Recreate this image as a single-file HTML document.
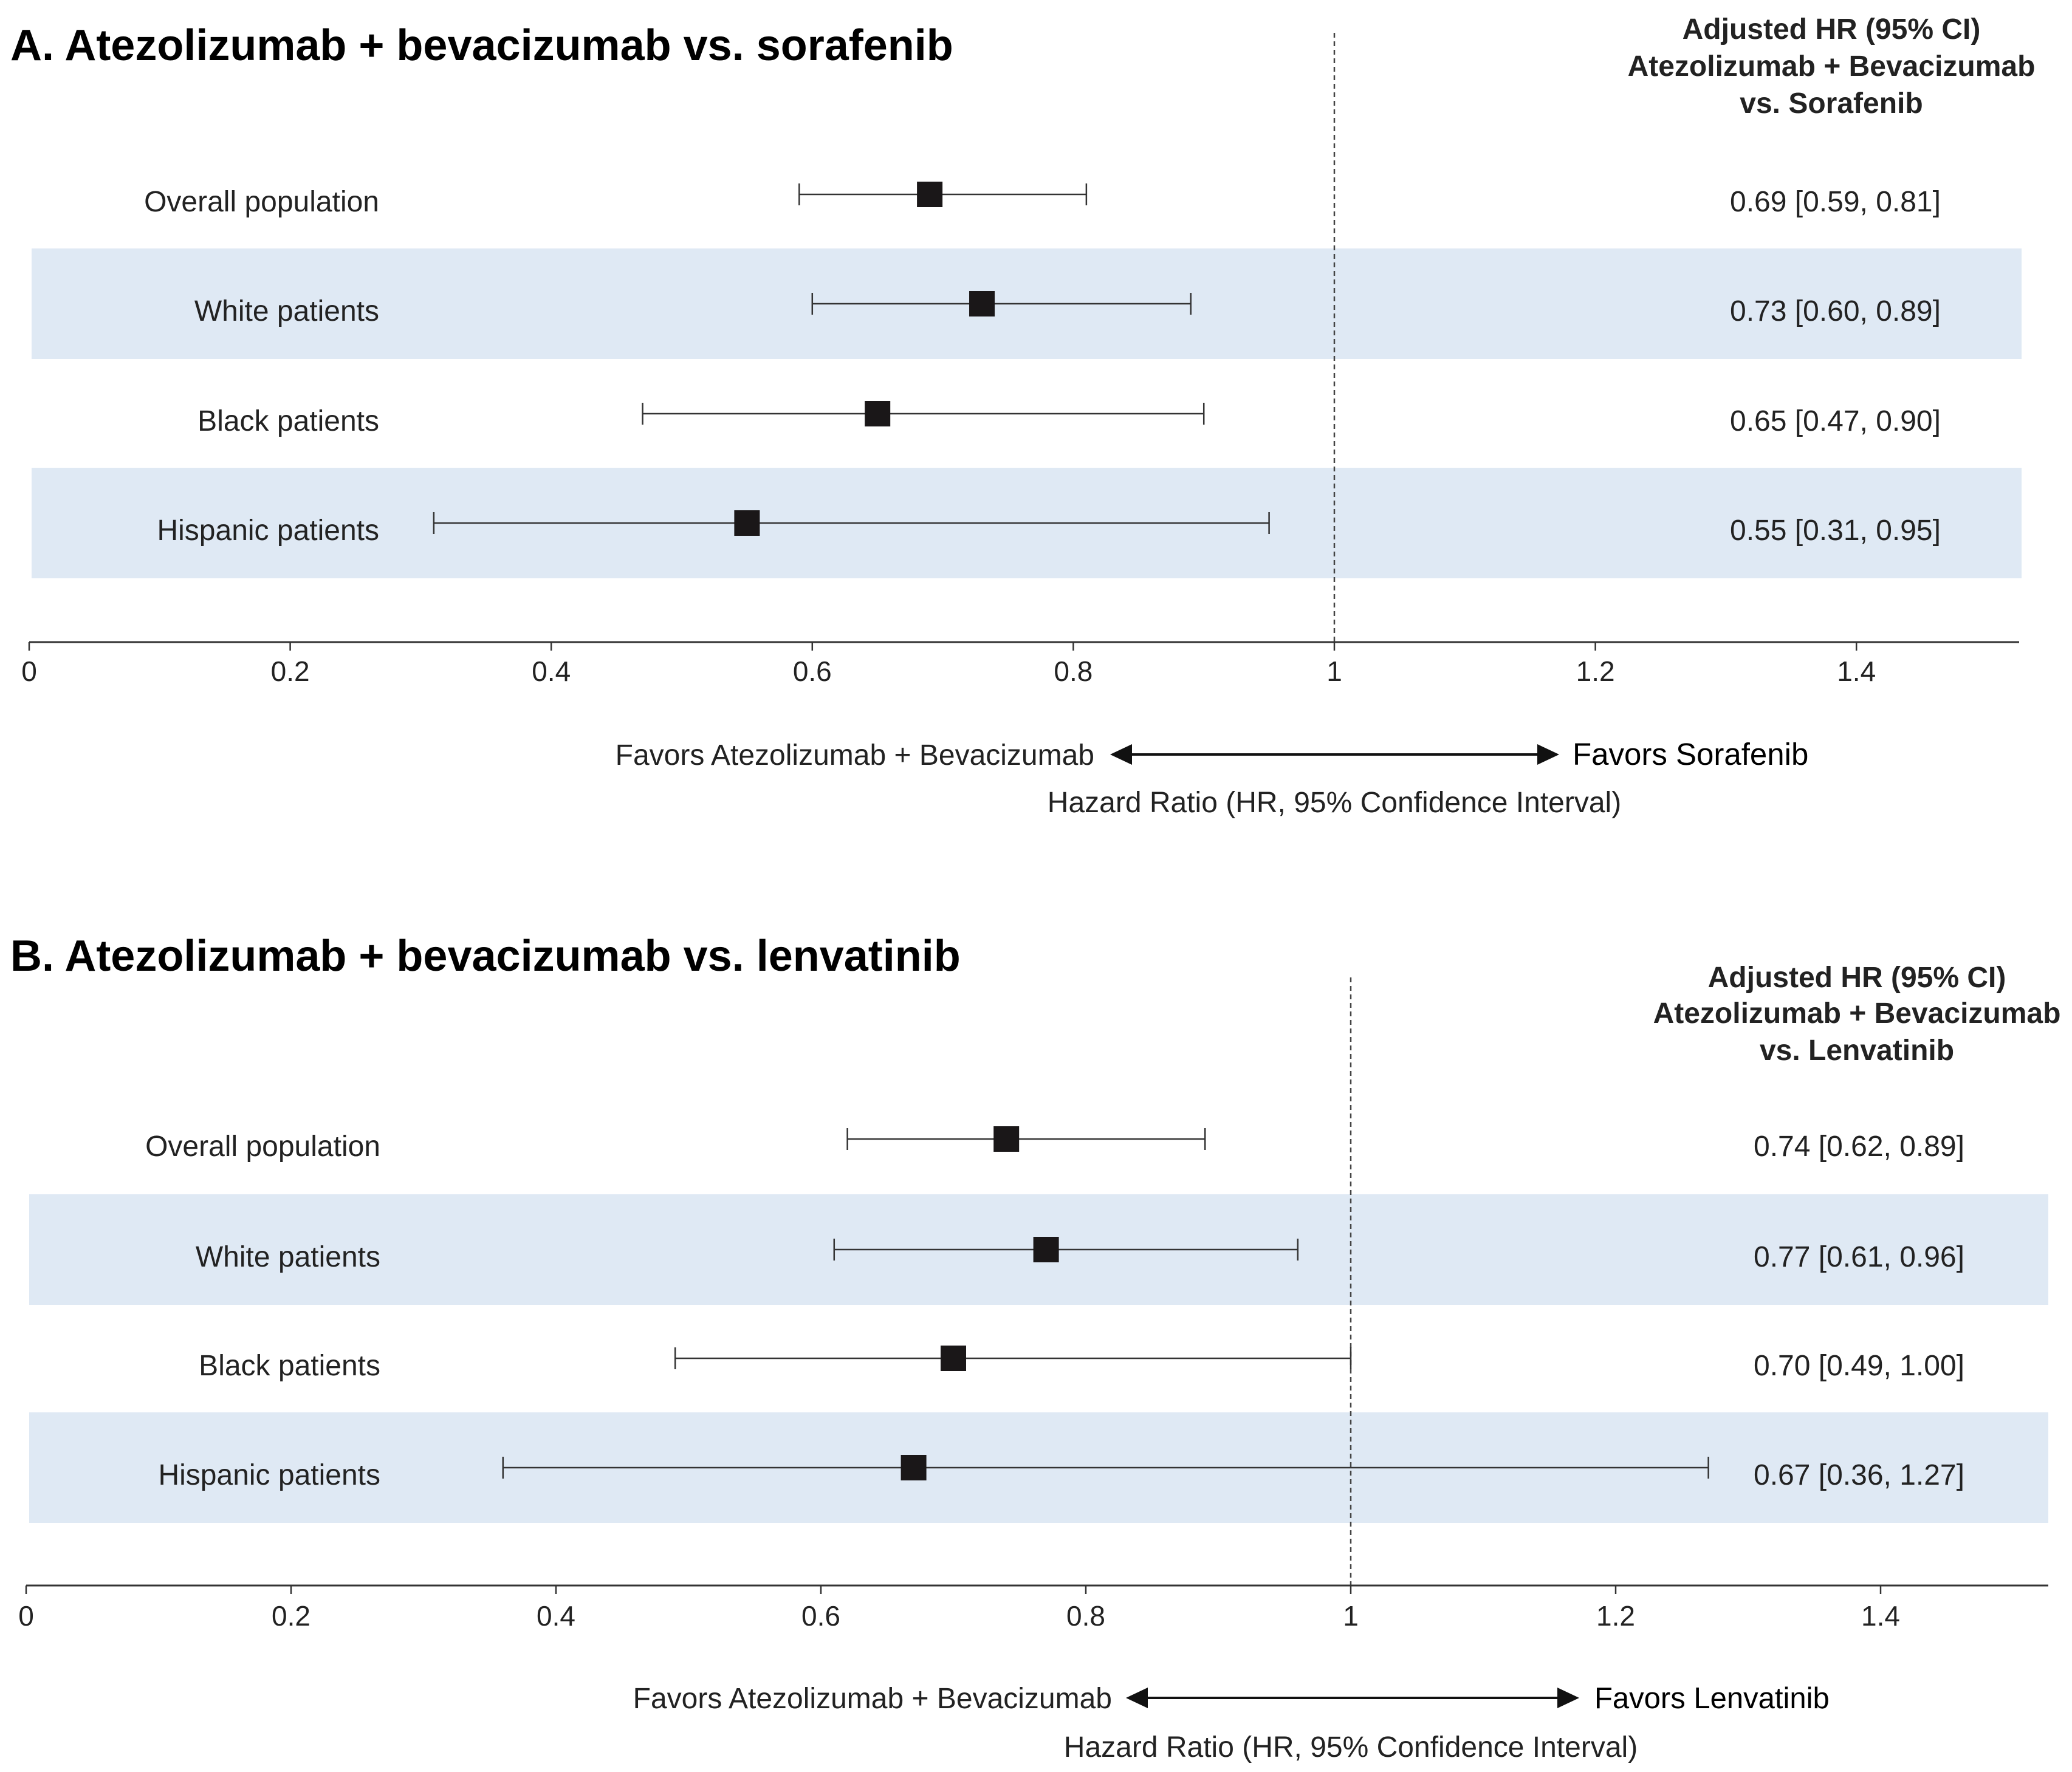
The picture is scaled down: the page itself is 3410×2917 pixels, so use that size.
<!DOCTYPE html>
<html><head><meta charset="utf-8">
<style>
html,body{margin:0;padding:0;background:#fff;}
svg{display:block;font-family:"Liberation Sans",Arial,sans-serif;}
</style></head>
<body>
<svg id="chart" width="3410" height="2917" viewBox="0 0 3410 2917" xmlns="http://www.w3.org/2000/svg"></svg>
<script>
const categories = ["Overall population","White patients","Black patients","Hispanic patients"];
const hrA = [0.69,0.73,0.65,0.55];
const lowA = [0.59,0.60,0.47,0.31];
const highA = [0.81,0.89,0.90,0.95];
const hrB = [0.74,0.77,0.70,0.67];
const lowB = [0.62,0.61,0.49,0.36];
const highB = [0.89,0.96,1.00,1.27];
const ticks = [0,0.2,0.4,0.6,0.8,1,1.2,1.4];
const tickLabels = ["0","0.2","0.4","0.6","0.8","1","1.2","1.4"];

const NS="http://www.w3.org/2000/svg";
const svg=document.getElementById('chart');
function el(tag,attrs,parent){const e=document.createElementNS(NS,tag);for(const k in attrs)e.setAttribute(k,attrs[k]);(parent||svg).appendChild(e);return e;}
function fmt(v){return v.toFixed(2);}

const panels=[
 {key:'a',title:"A. Atezolizumab + bevacizumab vs. sorafenib",comp:"vs. Sorafenib",fav:"Favors Sorafenib",favRSize:51,
  hr:hrA,lo:lowA,hi:highA,x0:48,x1:2196,axisY:1057,axisEnd:3323,dashTop:54,rowY:[320,500,681,861],bandH:182,bandX0:52,bandX1:3327,
  labelX:624,valX:2847,headX:3014,headY:[64,125,186],titleY:99,tickY:1105,favY:1242,arrL:1827,arrR:2566,favLEnd:1801,favRStart:2588,hazY:1320},
 {key:'b',title:"B. Atezolizumab + bevacizumab vs. lenvatinib",comp:"vs. Lenvatinib",fav:"Favors Lenvatinib",favRSize:49,
  hr:hrB,lo:lowB,hi:highB,x0:43,x1:2223,axisY:2610,axisEnd:3371,dashTop:1609,rowY:[1875,2057,2236,2416],bandH:182,bandX0:48,bandX1:3371,
  labelX:626,valX:2886,headX:3056,headY:[1625,1684,1745],titleY:1598,tickY:2660,favY:2795,arrL:1853,arrR:2599,favLEnd:1830,favRStart:2624,hazY:2875}
];

panels.forEach(p=>{
  const g=el('g',{});
  
  
  const sx=v=>p.x0+(p.x1-p.x0)*v;
  [1,3].forEach(i=>{
    const r=el('rect',{x:p.bandX0,y:p.rowY[i]-p.bandH/2,width:p.bandX1-p.bandX0,height:p.bandH,fill:'#dfe9f4'},g);
    
    
  });
  const t=el('text',{x:17,y:p.titleY,'font-size':72,'font-weight':'bold',fill:'#000'},g);
  t.textContent=p.title;
  
  
  ["Adjusted HR (95% CI)","Atezolizumab + Bevacizumab",p.comp].forEach((s,i)=>{
    const h=el('text',{x:p.headX,y:p.headY[i],'font-size':48,'font-weight':'bold','text-anchor':'middle',fill:'#222'},g);
    h.textContent=s;
    
    
  });
  const d=el('line',{x1:sx(1),x2:sx(1),y1:p.dashTop,y2:p.axisY,stroke:'#444','stroke-width':2.5,'stroke-dasharray':'8,6'},g);
  
  
  const ax=el('line',{x1:p.x0,x2:p.axisEnd,y1:p.axisY,y2:p.axisY,stroke:'#333','stroke-width':3},g);
  
  
  ticks.forEach((v,i)=>{
    const tk=el('line',{x1:sx(v),x2:sx(v),y1:p.axisY,y2:p.axisY+14,stroke:'#333','stroke-width':2.5},g);
    
    
    const tl=el('text',{x:sx(v),y:p.tickY+16,'font-size':46,'text-anchor':'middle',fill:'#222'},g);
    tl.textContent=tickLabels[i];
    
    
  });
  categories.forEach((c,i)=>{
    const y=p.rowY[i];
    const lb=el('text',{x:p.labelX,y:y+28,'font-size':48,'text-anchor':'end',fill:'#222'},g);
    lb.textContent=c;
    
    
    const ci=el('line',{x1:sx(p.lo[i]),x2:sx(p.hi[i]),y1:y,y2:y,stroke:'#333','stroke-width':2.5},g);
    
    
    [p.lo[i],p.hi[i]].forEach(v=>{
      const cap=el('line',{x1:sx(v),x2:sx(v),y1:y-18,y2:y+18,stroke:'#333','stroke-width':2.5},g);
      
      
    });
    const sq=el('rect',{x:sx(p.hr[i])-21,y:y-21,width:42,height:42,fill:'#1a1718'},g);
    
    
    const vt=el('text',{x:p.valX,y:y+28,'font-size':48,fill:'#222'},g);
    vt.textContent=fmt(p.hr[i])+" ["+fmt(p.lo[i])+", "+fmt(p.hi[i])+"]";
    
    
  });
  const fl=el('text',{x:p.favLEnd,y:p.favY+17,'font-size':48,'text-anchor':'end',fill:'#222'},g);
  fl.textContent="Favors Atezolizumab + Bevacizumab";
  
  
  const fr=el('text',{x:p.favRStart,y:p.favY+17,'font-size':p.favRSize,fill:'#000'},g);
  fr.textContent=p.fav;
  
  
  const ar=el('line',{x1:p.arrL+30,x2:p.arrR-30,y1:p.favY,y2:p.favY,stroke:'#111','stroke-width':4},g);
  
  
  const ah1=el('polygon',{points:`${p.arrL},${p.favY} ${p.arrL+36},${p.favY-17} ${p.arrL+36},${p.favY+17}`,fill:'#111'},g);
  
  
  const ah2=el('polygon',{points:`${p.arrR},${p.favY} ${p.arrR-36},${p.favY-17} ${p.arrR-36},${p.favY+17}`,fill:'#111'},g);
  
  
  const hz=el('text',{x:sx(1),y:p.hazY+17,'font-size':48,'text-anchor':'middle',fill:'#222'},g);
  hz.textContent="Hazard Ratio (HR, 95% Confidence Interval)";
  
  
});
</script>
</body></html>
